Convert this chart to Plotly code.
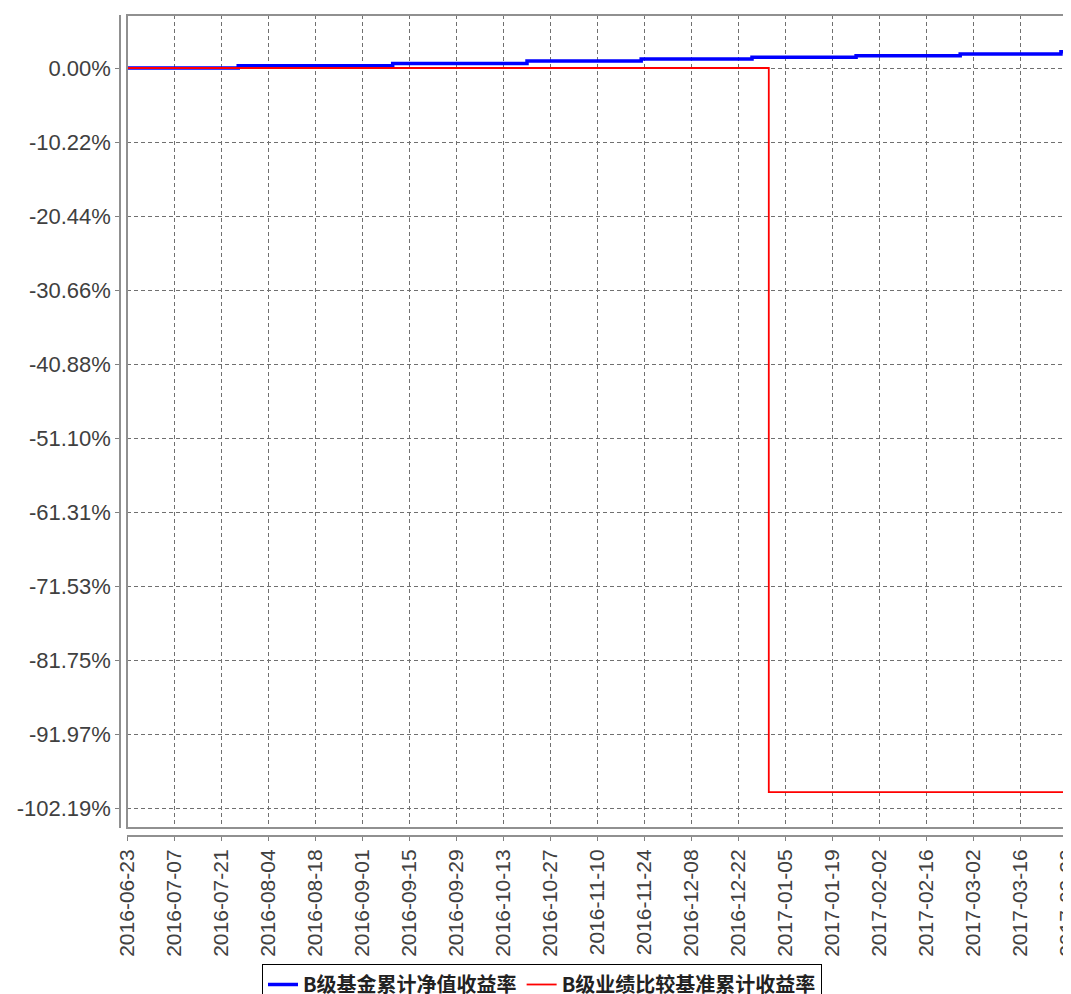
import plotly.graph_objects as go

# ---- data ----
blue_name = "B级基金累计净值收益率"
red_name = "B级业绩比较基准累计收益率"

blue_dates = ["2016-06-23", "2016-07-26", "2016-09-10", "2016-10-20", "2016-11-23",
              "2016-12-26", "2017-01-26", "2017-02-26", "2017-03-28", "2017-03-31"]
blue_values = [0.0, 0.31, 0.63, 0.98, 1.23, 1.47, 1.70, 1.94, 2.26, 2.26]

red_dates = ["2016-06-23", "2016-12-31", "2017-03-31"]
red_values = [0.0, -100.0, -100.0]

y_tick_values = [0.0, -10.219, -20.438, -30.657, -40.876, -51.095,
                 -61.314, -71.533, -81.752, -91.971, -102.19]
y_tick_labels = ["0.00%", "-10.22%", "-20.44%", "-30.66%", "-40.88%", "-51.10%",
                 "-61.31%", "-71.53%", "-81.75%", "-91.97%", "-102.19%"]

x_tick_labels = ["2016-06-23", "2016-07-07", "2016-07-21", "2016-08-04", "2016-08-18",
                 "2016-09-01", "2016-09-15", "2016-09-29", "2016-10-13", "2016-10-27",
                 "2016-11-10", "2016-11-24", "2016-12-08", "2016-12-22", "2017-01-05",
                 "2017-01-19", "2017-02-02", "2017-02-16", "2017-03-02", "2017-03-16",
                 "2017-03-30"]

x_range = ["2016-06-22 21:00", "2017-03-31"]
y_range = [-104.95, 7.32]

# ---- figure ----
W, H = 1071, 994
OFF = 8  # page body margin offset
ml, mr, mt, mb = 120 - OFF, OFF, 15 - OFF, H - (836 - OFF)
pw = W - ml - mr
ph = H - mt - mb
x_dom0 = (127 - 120) / pw
y_dom0 = (836 - 828) / ph

fig = go.Figure()
fig.add_trace(go.Scatter(x=blue_dates, y=blue_values, name=blue_name, mode="lines",
                         line=dict(color="#0000ff", width=3.5, shape="hv")))
fig.add_trace(go.Scatter(x=red_dates, y=red_values, name=red_name, mode="lines",
                         line=dict(color="#ff0000", width=1.8, shape="hv")))

grid = dict(showgrid=True, gridcolor="#707070", gridwidth=1, griddash="4px,3px")
xtickfont = dict(family="Liberation Sans, Arial, sans-serif", size=21, color="#404040")
ytickfont = dict(family="Liberation Sans, Arial, sans-serif", size=22, color="#404040")

fig.update_layout(
    width=W, height=H,
    margin=dict(l=ml, r=mr, t=mt, b=mb, pad=0, autoexpand=False),
    paper_bgcolor="white", plot_bgcolor="white",
    showlegend=True,
    legend=dict(orientation="h", x=(542 - 120) / pw, xanchor="center",
                y=(836 - 964) / ph, yanchor="top",
                bordercolor="#000000", borderwidth=1, bgcolor="white",
                font=dict(family="Noto Sans CJK SC", size=20, color="#222222", weight="bold"),
                itemwidth=30, tracegroupgap=0),
    xaxis=dict(domain=[x_dom0, 1], anchor="free", position=0, automargin=False,
               type="date", range=x_range,
               tickmode="array", tickvals=x_tick_labels, ticktext=x_tick_labels,
               tickangle=-90, tickfont=xtickfont,
               ticks="outside", ticklen=4, tickcolor="#808080", tickwidth=1,
               showline=True, linecolor="#909090", linewidth=2,
               zeroline=False, **grid),
    yaxis=dict(domain=[y_dom0, 1], anchor="free", position=0, automargin=False,
               range=y_range,
               tickmode="array", tickvals=y_tick_values, ticktext=y_tick_labels,
               tickfont=ytickfont,
               ticks="outside", ticklen=4, tickcolor="#808080", tickwidth=1,
               showline=True, linecolor="#909090", linewidth=1.5,
               zeroline=False, **grid),
    shapes=[dict(type="rect", xref="x domain", yref="y domain", x0=0, x1=1, y0=0, y1=1,
                 line=dict(color="#909090", width=2), fillcolor="rgba(0,0,0,0)", layer="above")],
)

fig.write_html("out.html")
